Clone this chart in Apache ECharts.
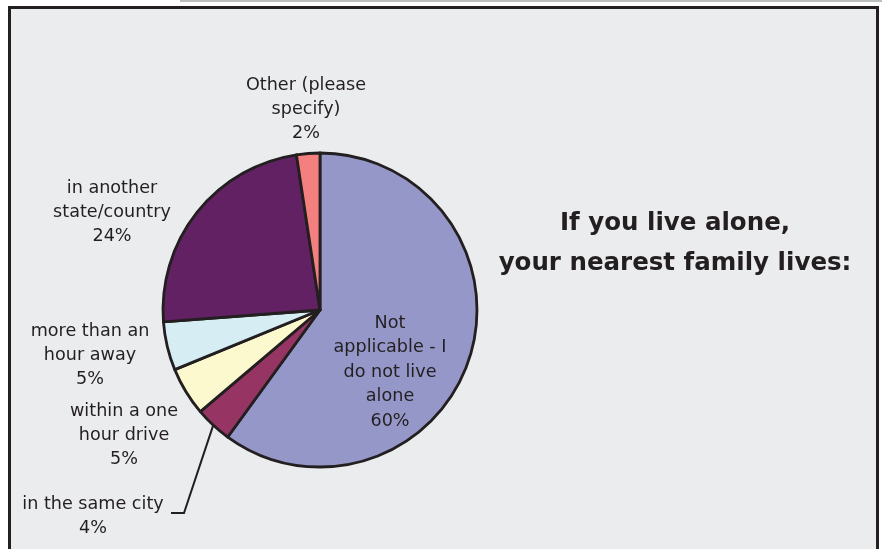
<!DOCTYPE html>
<html>
<head>
<meta charset="utf-8">
<script src="https://cdn.jsdelivr.net/npm/echarts@6/dist/echarts.min.js"></script>
<style>
  html, body { margin: 0; padding: 0; background: #fff; }
  #chart { width: 882px; height: 549px; }
</style>
</head>
<body>
<div id="chart"></div>
<script>
// slice names (line breaks as printed), clockwise from 12 o'clock
const categories = [
  'Not\napplicable - I\ndo not live\nalone',
  'in the same city',
  'within a one\nhour drive',
  'more than an\nhour away',
  'in another\nstate/country',
  'Other (please\nspecify)'
];
const shares = [60.0, 3.8, 5.0, 5.0, 23.8, 2.4];
const colors = ['#9597c9', '#963463', '#fdf9cf', '#d5edf3', '#612163', '#f37f7f'];

// where each label block sits (centre of the text block)
const labelSpots = [
  [390, 372],
  [93, 516],
  [124, 435],
  [90, 355],
  [112, 212],
  [306, 109]
];

const chart = echarts.init(document.getElementById('chart'), null, { renderer: 'canvas' });

const font = 'DejaVu Sans';

chart.setOption({
  backgroundColor: '#ffffff',
  animation: false,
  graphic: [
    {
      type: 'line',
      silent: true,
      shape: { x1: 180, y1: 1, x2: 882, y2: 1 },
      style: { stroke: '#bdbdbd', lineWidth: 2 }
    },
    {
      type: 'rect',
      silent: true,
      z: -10,
      shape: { x: 9.5, y: 7.5, width: 868, height: 600 },
      style: { fill: '#ebecee', stroke: '#231f20', lineWidth: 3 }
    }
  ],
  title: {
    text: 'If you live alone,\nyour nearest family lives:',
    left: 670,
    top: 199,
    textAlign: 'center',
    textStyle: {
      fontFamily: font,
      fontSize: 24.5,
      fontWeight: 'bold',
      color: '#231f20',
      lineHeight: 40
    }
  },
  series: [{
    type: 'pie',
    center: [320, 310],
    radius: 157,
    startAngle: 90,
    clockwise: true,
    avoidLabelOverlap: false,
    itemStyle: { borderColor: '#231f20', borderWidth: 2.8 },
    label: {
      show: true,
      position: 'outside',
      fontFamily: font,
      fontSize: 17.6,
      color: '#231f20',
      lineHeight: 24,
      align: 'center',
      formatter: (p) => p.name + '\n' + Math.round(p.percent) + '%'
    },
    labelLine: { show: false },
    labelLayout: (p) => {
      const spot = labelSpots[p.dataIndex];
      const out = { x: spot[0], y: spot[1], align: 'center', verticalAlign: 'middle' };
      if (p.dataIndex === 1 && p.labelLinePoints) {
        out.labelLinePoints = [
          p.labelLinePoints[0],
          [spot[0] + 91, spot[1] - 3],
          [spot[0] + 78, spot[1] - 3]
        ];
      }
      return out;
    },
    data: categories.map((name, i) => {
      const d = { name: name, value: shares[i], itemStyle: { color: colors[i] } };
      if (i === 0) {
        d.label = { position: 'inside', lineHeight: 24.5 };
      }
      if (i === 1) {
        d.labelLine = { show: true, length: 10, length2: 10, lineStyle: { color: '#231f20', width: 2 } };
      }
      return d;
    })
  }]
});
</script>
</body>
</html>
